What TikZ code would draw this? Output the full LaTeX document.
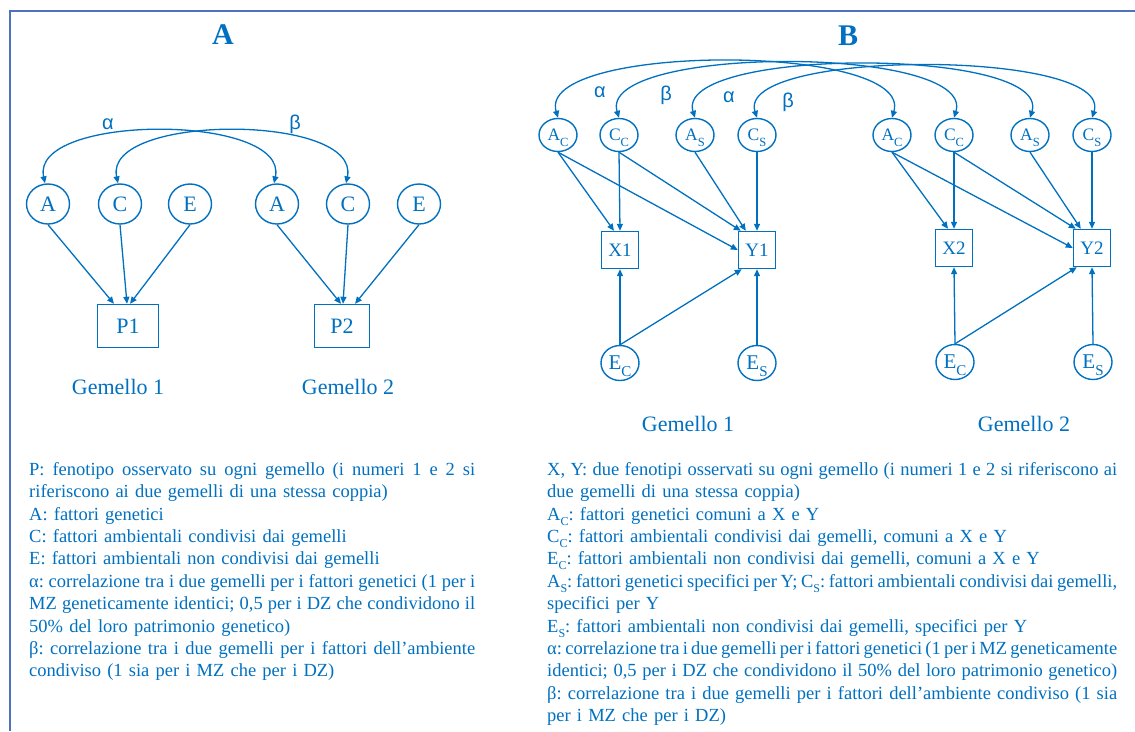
\documentclass[tikz,border=0pt]{standalone}
\usepackage{fontspec}
\setmainfont{Liberation Serif}
\newfontfamily\grkfont{Liberation Sans}
\usetikzlibrary{shapes.geometric,arrows.meta,calc}
\definecolor{dblue}{HTML}{0070C0}
\definecolor{fblue}{RGB}{79,114,190}
\frenchspacing
\newcommand\subT[1]{\raisebox{-6pt}[0pt][0pt]{\fontsize{12.5}{12.5}\selectfont #1}}
\newcommand\subE[1]{\raisebox{-7pt}[0pt][0pt]{\fontsize{15}{15}\selectfont #1}}
\newcommand\sbl[1]{\raisebox{-5pt}{\fontsize{12}{12}\selectfont #1}}
\newlength\lgw
\newcommand\jl[1]{\leavevmode\hbox to \lgw{\spaceskip=0.25em plus 1em minus 0.12em #1}}
\tikzset{
  x=1pt,y=-1pt,
  every node/.style={text=dblue},
  lat/.style={draw=dblue, line width=1.4pt, ellipse, inner sep=0pt},
  latA/.style={lat, minimum width=43pt, minimum height=40pt, font=\rmfamily\fontsize{22}{22}\selectfont},
  latB/.style={lat, minimum width=38pt, minimum height=33pt, font=\rmfamily\fontsize{17.5}{17.5}\selectfont},
  latE/.style={lat, minimum width=38pt, minimum height=35pt, font=\rmfamily\fontsize{21}{21}\selectfont},
  obsA/.style={draw=dblue, line width=1.4pt, rectangle, minimum height=43pt, inner sep=0pt, font=\rmfamily\fontsize{22}{22}\selectfont},
  obsB/.style={draw=dblue, line width=1.4pt, rectangle, minimum width=37pt, minimum height=37pt, inner sep=0pt, font=\rmfamily\fontsize{19}{19}\selectfont},
  arr/.style={draw=dblue, line width=1.3pt, -{Triangle[length=7pt,width=6pt]}},
  cov/.style={draw=dblue, line width=1.3pt, {Triangle[length=7pt,width=6pt]}-{Triangle[length=7pt,width=6pt]}},
  grk/.style={font=\grkfont\fontsize{20}{20}\selectfont},
  twin/.style={font=\rmfamily\fontsize{22}{22}\selectfont, anchor=base},
  ttl/.style={font=\rmfamily\bfseries\fontsize{30}{30}\selectfont},
  lgd/.style={anchor=north west, inner sep=0pt, align=left, font=\rmfamily\fontsize{18.5}{22.4}\selectfont},
}
\begin{document}
\begin{tikzpicture}
\useasboundingbox (0,0) rectangle (1135,731);
% frame
\coordinate (fr1) at (10,731);
\coordinate (fr2) at (10,11);
\coordinate (fr3) at (1135,11);
\draw[fblue, line width=2pt] (fr1) -- (fr2) -- (fr3);

% ================= Panel A =================
\node[ttl] (tA) at (223,35) {A};
\node[latA] (a1) at (48,204) {A};
\node[latA] (c1) at (120,204) {C};
\node[latA] (e1) at (190,204) {E};
\node[latA] (a2) at (277,204) {A};
\node[latA] (c2) at (348,204) {C};
\node[latA] (e2) at (419,204) {E};
\node[obsA, minimum width=61pt] (p1) at (128,326) {P1};
\node[obsA, minimum width=55pt] (p2) at (342,326) {P2};
\coordinate (p1a) at ($(p1.north)+(-14,0)$);
\coordinate (p1c) at ($(p1.north)+(-1,0)$);
\coordinate (p1e) at ($(p1.north)+(2,0)$);
\coordinate (p2a) at ($(p2.north)+(-1,0)$);
\coordinate (p2c) at ($(p2.north)+(1,0)$);
\coordinate (p2e) at ($(p2.north)+(13,0)$);
\draw[arr] (a1.south) -- (p1a);
\draw[arr] (c1.south) -- (p1c);
\draw[arr] (e1.south) -- (p1e);
\draw[arr] (a2.south) -- (p2a);
\draw[arr] (c2.south) -- (p2c);
\draw[arr] (e2.south) -- (p2e);
\coordinate (a1t) at ($(a1.north)+(-3,0)$);
\coordinate (a2t) at ($(a2.north)+(-3,0)$);
\coordinate (c1t) at ($(c1.north)+(-2,0)$);
\coordinate (c2t) at ($(c2.north)+(-2,0)$);
\draw[cov] (a1t) .. controls +(-15,-70) and +(15,-70) .. (a2t);
\draw[cov] (c1t) .. controls +(-15,-70) and +(15,-70) .. (c2t);
\node[grk] (alA) at (108,124) {α};
\node[grk] (beA) at (295,124) {β};
\node[twin] (g1A) at (118,394) {Gemello 1};
\node[twin] (g2A) at (348,394) {Gemello 2};

% ================= Panel B =================
\node[ttl] (tB) at (848,36) {B};
\node[latB] (ac1) at (558,135) {A\subT{C}};
\node[latB] (cc1) at (619,135) {C\subT{C}};
\node[latB] (as1) at (695,135) {A\subT{S}};
\node[latB] (cs1) at (757,135) {C\subT{S}};
\node[latB] (ac2) at (892,135) {A\subT{C}};
\node[latB] (cc2) at (954,135) {C\subT{C}};
\node[latB] (as2) at (1030,135) {A\subT{S}};
\node[latB] (cs2) at (1092,135) {C\subT{S}};
\node[obsB] (x1) at (620,250) {X1};
\node[obsB] (y1) at (757,250) {Y1};
\node[obsB] (x2) at (954,248) {X2};
\node[obsB] (y2) at (1092,248) {Y2};
\node[latE] (ec1) at (620,363) {E\subE{C}};
\node[latE] (es1) at (757,363) {E\subE{S}};
\node[latE] (ec2) at (955,362) {E\subE{C}};
\node[latE] (es2) at (1093,362) {E\subE{S}};

\coordinate (x1a) at ($(x1.north)+(-6,0)$);
\coordinate (y1c) at ($(y1.north west)+(3,0)$);
\coordinate (y1s) at ($(y1.north west)+(8,0)$);
\coordinate (y1e) at ($(y1.south west)+(4,0)$);
\coordinate (x2a) at ($(x2.north)+(-6,0)$);
\coordinate (y2c) at ($(y2.north west)+(3,0)$);
\coordinate (y2s) at ($(y2.north west)+(8,0)$);
\coordinate (y2e) at ($(y2.south west)+(4,0)$);

\draw[arr] (ac1.south) -- (x1a);
\draw[arr] (ac1.south) -- (y1.west);
\draw[arr] (cc1.south) -- (x1.north);
\draw[arr] (cc1.south) -- (y1c);
\draw[arr] (as1.south) -- (y1s);
\draw[arr] (cs1.south) -- (y1.north);
\draw[arr] (ec1.north) -- (x1.south);
\draw[arr] (ec1.north) -- (y1e);
\draw[arr] (es1.north) -- (y1.south);

\draw[arr] (ac2.south) -- (x2a);
\draw[arr] (ac2.south) -- (y2.west);
\draw[arr] (cc2.south) -- (x2.north);
\draw[arr] (cc2.south) -- (y2c);
\draw[arr] (as2.south) -- (y2s);
\draw[arr] (cs2.south) -- (y2.north);
\draw[arr] (ec2.north) -- (x2.south);
\draw[arr] (ec2.north) -- (y2e);
\draw[arr] (es2.north) -- (y2.south);

\draw[cov] (ac1.north) .. controls +(-22,-75) and +(22,-75) .. (ac2.north);
\draw[cov] (cc1.north) .. controls +(-22,-73) and +(22,-73) .. (cc2.north);
\draw[cov] (as1.north) .. controls +(-22,-71) and +(22,-71) .. (as2.north);
\draw[cov] (cs1.north) .. controls +(-22,-69) and +(22,-69) .. (cs2.north);
\node[grk] (al1B) at (600,92) {α};
\node[grk] (be1B) at (666,95) {β};
\node[grk] (al2B) at (729,97) {α};
\node[grk] (be2B) at (788,102) {β};
\node[twin] (g1B) at (688,431) {Gemello 1};
\node[twin] (g2B) at (1024,431) {Gemello 2};

% ================= Legends =================
\setlength\lgw{446pt}
\node[lgd, text width=446pt] (legA) at (29,462) {%
\jl{P: fenotipo osservato su ogni gemello (i numeri 1 e 2 si}\\
riferiscono ai due gemelli di una stessa coppia)\\
A: fattori genetici\\
C: fattori ambientali condivisi dai gemelli\\
E: fattori ambientali non condivisi dai gemelli\\
\jl{α: correlazione tra i due gemelli per i fattori genetici (1 per i}\\
\jl{MZ geneticamente identici; 0,5 per i DZ che condividono il}\\
50\% del loro patrimonio genetico)\\
\jl{β: correlazione tra i due gemelli per i fattori dell’ambiente}\\
condiviso (1 sia per i MZ che per i DZ)};

\node[lgd, text width=575pt] (legB) at (547,462) {\setlength\lgw{570pt}%
\jl{X, Y: due fenotipi osservati su ogni gemello (i numeri 1 e 2 si riferiscono ai}\\
due gemelli di una stessa coppia)\\
A\sbl{C}: fattori genetici comuni a X e Y\\
C\sbl{C}: fattori ambientali condivisi dai gemelli, comuni a X e Y\\
E\sbl{C}: fattori ambientali non condivisi dai gemelli, comuni a X e Y\\
\jl{A\sbl{S}: fattori genetici specifici per Y; C\sbl{S}: fattori ambientali condivisi dai gemelli,}\\
specifici per Y\\
E\sbl{S}: fattori ambientali non condivisi dai gemelli, specifici per Y\\
\jl{α: correlazione tra i due gemelli per i fattori genetici (1 per i MZ geneticamente}\\
\jl{identici; 0,5 per i DZ che condividono il 50\% del loro patrimonio genetico)}\\
\jl{β: correlazione tra i due gemelli per i fattori dell’ambiente condiviso (1 sia}\\
per i MZ che per i DZ)};
\end{tikzpicture}
\end{document}
